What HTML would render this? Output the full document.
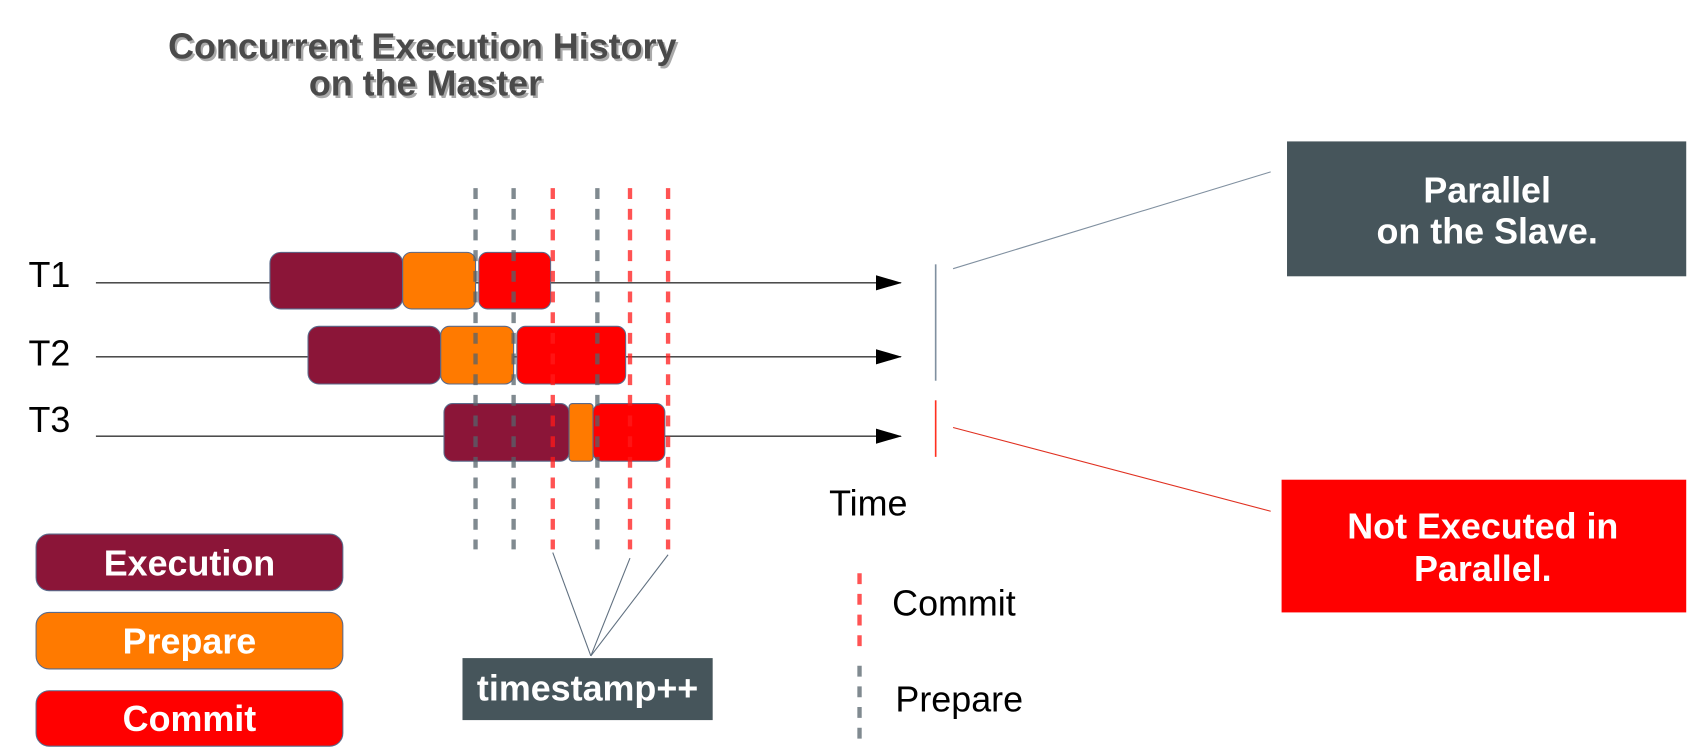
<!DOCTYPE html>
<html><head><meta charset="utf-8"><style>html,body{margin:0;padding:0;background:#fff}svg{display:block}</style></head><body>
<svg width="1706" height="756" viewBox="0 0 1568 695" xmlns="http://www.w3.org/2000/svg" font-family="Liberation Sans, sans-serif">
<defs><marker id="ar" markerWidth="24" markerHeight="14" refX="23" refY="7" orient="auto" markerUnits="userSpaceOnUse"><path d="M0,0 L24,7 L0,14 Z" fill="#000"/></marker></defs>
<g font-weight="bold" font-size="33" text-anchor="middle">
<text x="390" y="56" fill="#aaa">Concurrent Execution History</text>
<text x="388" y="54" fill="#4a4a4a">Concurrent Execution History</text>
<text x="393" y="90" fill="#aaa">on the Master</text>
<text x="391" y="88" fill="#4a4a4a">on the Master</text>
</g>
<g font-size="33" fill="#000"><text x="26" y="264">T1</text><text x="26" y="336">T2</text><text x="26" y="397">T3</text></g>
<g stroke="#333" stroke-width="1.2"><line x1="88" y1="260" x2="828" y2="260" marker-end="url(#ar)"/><line x1="88" y1="328" x2="828" y2="328" marker-end="url(#ar)"/><line x1="88" y1="401" x2="828" y2="401" marker-end="url(#ar)"/></g>
<g stroke="#5a6a8a" stroke-width="1">
<rect x="248" y="232" width="122" height="52" rx="10" fill="#8b1538"/>
<rect x="370" y="232" width="67" height="52" rx="8" fill="#ff7a00"/>
<rect x="440" y="232" width="66" height="52" rx="8" fill="#ff0000"/>
<rect x="283" y="300" width="122" height="53" rx="10" fill="#8b1538"/>
<rect x="405" y="300" width="67" height="53" rx="8" fill="#ff7a00"/>
<rect x="475" y="300" width="100" height="53" rx="8" fill="#ff0000"/>
<rect x="408" y="371" width="115" height="53" rx="8" fill="#8b1538"/>
<rect x="523" y="371" width="22" height="53" rx="3" fill="#ff7a00"/>
<rect x="545" y="371" width="66" height="53" rx="8" fill="#ff0000"/>
</g>
<g stroke-width="4" stroke-dasharray="10,9" opacity="0.75">
<line x1="437" y1="173" x2="437" y2="505" stroke="#56636b"/>
<line x1="472" y1="173" x2="472" y2="505" stroke="#56636b"/>
<line x1="549" y1="173" x2="549" y2="505" stroke="#56636b"/>
<line x1="508" y1="173" x2="508" y2="505" stroke="#ff1a1a"/>
<line x1="579" y1="173" x2="579" y2="505" stroke="#ff1a1a"/>
<line x1="614" y1="173" x2="614" y2="505" stroke="#ff1a1a"/>
</g>
<line x1="860" y1="243" x2="860" y2="350" stroke="#8090a0" stroke-width="1.5"/>
<line x1="860" y1="368" x2="860" y2="420" stroke="#ff3020" stroke-width="1.5"/>
<line x1="876" y1="247" x2="1168" y2="158" stroke="#8090a0" stroke-width="1"/>
<line x1="876" y1="393" x2="1168" y2="470" stroke="#e03020" stroke-width="1"/>
<rect x="1183" y="130" width="367" height="124" fill="#46555b"/>
<g font-weight="bold" font-size="33" fill="#fff" text-anchor="middle">
<text x="1367" y="186">Parallel</text><text x="1367" y="224">on the Slave.</text></g>
<rect x="1178" y="441" width="372" height="122" fill="#ff0000"/>
<g font-weight="bold" font-size="33" fill="#fff" text-anchor="middle">
<text x="1363" y="495">Not Executed in</text><text x="1363" y="534">Parallel.</text></g>
<text x="762" y="474" font-size="33">Time</text>
<g stroke="#5a6a8a" stroke-width="1">
<rect x="33" y="491" width="282" height="52" rx="12" fill="#8b1538"/>
<rect x="33" y="563" width="282" height="52" rx="12" fill="#ff7a00"/>
<rect x="33" y="635" width="282" height="51" rx="12" fill="#ff0000"/>
</g>
<g font-weight="bold" font-size="33" fill="#fff" text-anchor="middle">
<text x="174" y="529">Execution</text><text x="174" y="601">Prepare</text><text x="174" y="672">Commit</text></g>
<g stroke="#607080" stroke-width="1"><line x1="543" y1="603" x2="508" y2="508"/><line x1="543" y1="603" x2="579" y2="513"/><line x1="543" y1="603" x2="614" y2="510"/></g>
<rect x="425" y="605" width="230" height="57" fill="#46555b"/>
<text x="540" y="644" font-weight="bold" font-size="33" fill="#fff" text-anchor="middle">timestamp++</text>
<line x1="790" y1="527" x2="790" y2="597" stroke="#ff1a1a" stroke-width="4" stroke-dasharray="10,9" opacity="0.75"/>
<text x="820" y="566" font-size="33">Commit</text>
<line x1="790" y1="612" x2="790" y2="685" stroke="#56636b" stroke-width="4" stroke-dasharray="10,9" opacity="0.75"/>
<text x="823" y="654" font-size="33">Prepare</text>
</svg>
</body></html>
